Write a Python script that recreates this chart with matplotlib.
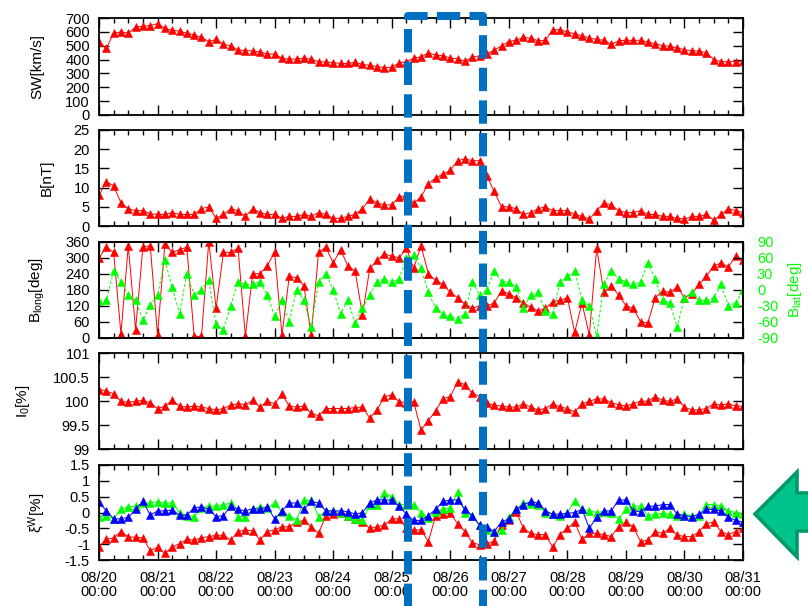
import numpy as np
import matplotlib
matplotlib.use("Agg")
import matplotlib.pyplot as plt
from matplotlib.lines import Line2D
from matplotlib.patches import Polygon
from matplotlib.ticker import MultipleLocator, FuncFormatter

plt.rcParams['font.family'] = ['Liberation Sans', 'DejaVu Sans']
plt.rcParams['font.size'] = 10.5
plt.rcParams['axes.unicode_minus'] = False
plt.rcParams['mathtext.fontset'] = 'custom'
plt.rcParams['mathtext.rm'] = 'Liberation Sans'
plt.rcParams['mathtext.it'] = 'Liberation Sans:italic'
plt.rcParams['mathtext.bf'] = 'Liberation Sans:bold'

# ---------------- data (3-hourly samples, 08/20 00:00 -> 08/31 00:00) -------------
hours = np.arange(0, 265, 3)
x_tick_labels = ["08/20\n00:00", "08/21\n00:00", "08/22\n00:00", "08/23\n00:00",
                 "08/24\n00:00", "08/25\n00:00", "08/26\n00:00", "08/27\n00:00",
                 "08/28\n00:00", "08/29\n00:00", "08/30\n00:00", "08/31\n00:00"]

sw_speed = [525, 480, 590, 600, 590, 635, 640, 645,
            660, 625, 612, 605, 590, 578, 560, 530,
            545, 510, 500, 470, 465, 462, 455, 440,
            440, 410, 402, 405, 410, 402, 385, 382,
            378, 372, 372, 380, 365, 358, 350, 342,
            345, 375, 385, 410, 420, 448, 432, 428,
            410, 405, 388, 415, 428, 440, 468, 500,
            530, 540, 560, 555, 535, 540, 615, 615,
            600, 585, 572, 555, 545, 540, 510, 535,
            540, 538, 540, 525, 515, 500, 495, 485,
            470, 465, 460, 450, 400, 385, 385, 385,
            390]

b_field = [8, 11.5, 10.5, 6, 4.5, 4, 4, 3.2,
           3, 3, 3.5, 3, 3, 3, 4.5, 5,
           2, 3, 4.5, 4, 2.5, 4.5, 3.5, 3,
           3, 2, 2.5, 2.5, 3, 2.5, 3.5, 3,
           2, 2, 2.5, 3, 4.5, 7, 6, 5.5,
           5.5, 7.5, 8, 6, 7.5, 11, 12.5, 13.5,
           14.5, 17, 17.5, 17, 17, 13, 9, 5,
           5, 4.5, 3, 3.5, 4.5, 5, 4, 4,
           4, 3, 2.5, 1.8, 4, 6, 5.5, 4,
           3.5, 3.5, 4, 3, 3, 2.5, 2.5, 2,
           1.8, 2.5, 2.5, 3, 1.5, 3, 4.5, 4,
           3.5]

b_long = [300, 340, 320, 15, 345, 30, 340, 345,
          10, 350, 320, 330, 340, 5, 5, 360,
          110, 320, 320, 335, 5, 240, 240, 270,
          320, 10, 230, 225, 195, 10, 320, 340,
          280, 330, 270, 250, 85, 260, 290, 315,
          305, 300, 335, 260, 345, 240, 215, 200,
          170, 150, 125, 110, 120, 120, 130, 175,
          165, 150, 130, 115, 100, 110, 135, 140,
          150, 20, 130, 10, 335, 170, 195, 160,
          120, 110, 60, 55, 150, 175, 170, 190,
          150, 165, 200, 230, 270, 280, 265, 305,
          290]

b_lat = [-22, -20, 35, 15, -10, -20, -57, -29,
         -10, 55, 5, -45, 30, -10, 0, 18,
         -65, -75, -30, 15, 10, 10, 15, -10,
         -50, -20, -60, 0, -20, -70, 15, 30,
         0, -45, -20, -63, -35, -10, 15, 20,
         15, 20, 60, 65, 40, -5, -35, -45,
         -50, -55, -45, 15, -10, 0, 35, 15,
         15, 5, -35, -10, -5, -40, -45, 15,
         25, 35, -20, -30, -87, 10, 35, 20,
         15, 10, 15, 50, 20, -20, -25, -70,
         -15, -5, -20, -20, -15, 10, -30, -25,
         0]

i0 = [100.24, 100.22, 100.15, 100.0, 99.98, 100.0, 100.02, 99.97,
      99.85, 99.9, 100.02, 99.9, 99.88, 99.9, 99.88, 99.85,
      99.82, 99.85, 99.92, 99.95, 99.93, 100.02, 99.88, 100.0,
      99.95, 100.15, 99.9, 99.88, 99.9, 99.75, 99.7, 99.85,
      99.85, 99.85, 99.85, 99.87, 99.88, 99.65, 99.82, 100.1,
      100.13, 99.99, 99.97, 99.99, 99.4, 99.6, 99.8, 100.05,
      100.1, 100.4, 100.35, 100.17, 100.1, 99.96, 99.92, 99.9,
      99.88, 99.88, 99.95, 99.88, 99.82, 99.85, 99.95, 99.88,
      99.85, 99.78, 99.95, 100.0, 100.05, 100.05, 99.97, 99.93,
      99.9, 99.95, 100.0, 100.0, 100.1, 100.02, 100.0, 100.05,
      99.88, 99.82, 99.82, 99.85, 99.95, 99.92, 99.95, 99.9,
      99.9]

xi_red = [-1.08, -0.85, -0.8, -0.6, -0.77, -0.78, -0.8, -1.2,
          -1.1, -1.29, -1.1, -0.98, -0.85, -0.87, -0.8, -0.76,
          -0.72, -0.72, -0.87, -0.6, -0.55, -0.58, -0.87, -0.6,
          -0.55, -0.45, -0.45, -0.3, -0.25, -0.45, -0.66, -0.1,
          -0.05, 0.0, -0.1, -0.2, -0.3, -0.5, -0.45, -0.4,
          -0.2, -0.2, -0.5, -0.55, -0.55, -0.92, -0.1, -0.05,
          -0.02, -0.35, -0.6, -0.95, -1.02, -1.0, -0.9, -0.4,
          -0.25, 0.03, -0.5, -0.66, -0.7, -0.7, -1.1, -0.7,
          -0.5, -0.3, -0.85, -0.66, -0.66, -0.7, -0.76, -0.45,
          -0.3, -0.45, -0.92, -0.87, -0.6, -0.66, -0.5, -0.71,
          -0.76, -0.76, -0.6, -0.35, -0.3, -0.6, -0.7, -0.6,
          -0.5]

xi_green = [-0.13, -0.1, -0.2, 0.1, 0.18, 0.2, 0.29, 0.3,
            0.34, 0.29, 0.3, 0.0, -0.1, -0.13, 0.15, 0.2,
            0.2, 0.25, 0.29, -0.13, -0.13, 0.1, 0.18, 0.15,
            0.29, 0.03, -0.1, -0.24, 0.38, 0.38, -0.13, 0.05,
            0.05, 0.0, -0.1, -0.2, -0.24, 0.24, 0.25, 0.61,
            0.5, 0.25, 0.25, 0.24, 0.0, -0.18, 0.03, 0.1,
            0.15, 0.65, 0.0, -0.12, -0.4, -0.55, -0.6, -0.55,
            -0.15, 0.1, 0.29, 0.28, 0.25, 0.0, -0.05, -0.1,
            0.0, 0.35, 0.1, 0.05, 0.0, 0.03, 0.0, -0.2,
            0.1, 0.2, 0.2, -0.1, -0.05, -0.03, -0.05, -0.1,
            -0.05, -0.1, -0.12, 0.25, 0.25, 0.2, 0.05, 0.0,
            -0.05]

xi_blue = [0.34, 0.05, -0.2, -0.2, -0.15, 0.1, 0.35, -0.08,
           0.05, 0.05, 0.08, -0.08, -0.08, 0.15, 0.18, 0.1,
           -0.13, -0.1, 0.2, 0.1, 0.05, 0.12, 0.1, 0.18,
           -0.2, 0.05, 0.3, 0.3, 0.1, 0.35, 0.3, 0.05,
           0.05, 0.05, 0.03, -0.05, 0.0, 0.3, 0.4, 0.4,
           0.39, 0.2, -0.05, -0.25, -0.25, -0.1, 0.1, 0.35,
           0.39, 0.4, 0.1, -0.1, -0.4, -0.45, -0.6, -0.3,
           -0.2, 0.1, 0.25, 0.35, 0.3, 0.05, -0.05, -0.05,
           -0.03, 0.0, 0.1, -0.5, -0.15, 0.05, 0.05, 0.39,
           0.4, 0.05, 0.03, 0.2, 0.2, 0.25, 0.25, -0.05,
           -0.1, -0.13, -0.05, 0.1, 0.1, 0.05, -0.15, -0.25,
           -0.3]

# ---------------- figure ----------------
W, H = 808, 606
fig = plt.figure(figsize=(W / 100, H / 100), dpi=100)
days = hours / 24.0

RED = '#FF0000'
GREEN = '#00FF00'
BLUE = '#0000FF'

L_PX, R_PX = 99, 743
panel_px = [(18, 115), (130, 226), (241.7, 337.7), (353.3, 449.3), (465, 560)]


def make_ax(top, bot):
    return fig.add_axes([L_PX / W, 1 - bot / H, (R_PX - L_PX) / W, (bot - top) / H])


def style(ax, right=True):
    ax.set_xlim(0, 11)
    ax.xaxis.set_major_locator(MultipleLocator(1))
    ax.xaxis.set_minor_locator(MultipleLocator(0.25))
    ax.tick_params(which='both', direction='in', top=True, right=right, width=1.0)
    ax.tick_params(which='major', length=7)
    ax.tick_params(which='minor', length=3.5)
    ax.tick_params(axis='y', which='minor', length=0)
    ax.tick_params(axis='y', pad=6.5)
    for s in ax.spines.values():
        s.set_linewidth(1.3)


def ylab(ax, text, xpx):
    ax.set_ylabel(text, va='center', fontsize=11)
    ax.yaxis.set_label_coords((xpx - L_PX) / (R_PX - L_PX), 0.5)


fmt_g = FuncFormatter(lambda v, p: '%g' % v)
mk = dict(marker='^', markersize=5.4, markeredgewidth=0.4, linewidth=0.7)

# Panel 1: solar wind speed
ax1 = make_ax(*panel_px[0])
style(ax1)
ax1.plot(days, sw_speed, color=RED, mfc=RED, mec=RED, **mk)
ax1.set_ylim(0, 700)
ax1.yaxis.set_major_locator(MultipleLocator(100))
ax1.tick_params(labelbottom=False)
ylab(ax1, 'SW[km/s]', 37)

# Panel 2: IMF magnitude
ax2 = make_ax(*panel_px[1])
style(ax2)
ax2.plot(days, b_field, color=RED, mfc=RED, mec=RED, **mk)
ax2.set_ylim(0, 25)
ax2.yaxis.set_major_locator(MultipleLocator(5))
ax2.tick_params(labelbottom=False)
ylab(ax2, 'B[nT]', 47)

# Panel 3: IMF longitude / latitude
ax3 = make_ax(*panel_px[2])
style(ax3, right=False)
ax3.plot(days, b_long, color=RED, mfc=RED, mec=RED, **mk, zorder=3)
ax3.set_ylim(0, 360)
ax3.yaxis.set_major_locator(MultipleLocator(60))
ax3.tick_params(labelbottom=False)
ylab(ax3, r'B$_{\mathrm{long}}$[deg]', 37)
ax3b = ax3.twinx()
ax3b.plot(days, b_lat, color=GREEN, mfc=GREEN, mec=GREEN, linestyle=(0, (3, 2)),
          marker='^', markersize=5.4, markeredgewidth=0.4, linewidth=0.7)
ax3b.set_ylim(-90, 90)
ax3b.yaxis.set_major_locator(MultipleLocator(30))
ax3b.tick_params(axis='y', direction='in', length=7, width=1.0, colors=GREEN, pad=10)
ax3b.tick_params(axis='y', which='minor', length=0)
ax3b.spines['right'].set_color('black')
for s in ax3b.spines.values():
    s.set_linewidth(1.3)
ax3b.set_ylabel(r'B$_{\mathrm{lat}}$[deg]', color=GREEN, rotation=90, va='center', fontsize=11)
ax3b.yaxis.set_label_coords((795 - L_PX) / (R_PX - L_PX), 0.5)
ax3b.tick_params(axis='y', which='major', color='black')

# Panel 4: I0
ax4 = make_ax(*panel_px[3])
style(ax4)
ax4.plot(days, i0, color=RED, mfc=RED, mec=RED, **mk)
ax4.set_ylim(99, 101)
ax4.yaxis.set_major_locator(MultipleLocator(0.5))
ax4.yaxis.set_major_formatter(fmt_g)
ax4.tick_params(labelbottom=False)
ylab(ax4, r'I$_{0}$[%]', 23)

# Panel 5: xi^W components
ax5 = make_ax(*panel_px[4])
style(ax5)
ax5.plot(days, xi_red, color=RED, mfc=RED, mec=RED, **mk)
ax5.plot(days, xi_green, color=GREEN, mfc=GREEN, mec=GREEN, **mk)
ax5.plot(days, xi_blue, color=BLUE, mfc=BLUE, mec=BLUE, **mk)
ax5.set_ylim(-1.5, 1.5)
ax5.yaxis.set_major_locator(MultipleLocator(0.5))
ax5.yaxis.set_major_formatter(fmt_g)
ax5.set_xticks(range(12))
ax5.set_xticklabels(x_tick_labels, linespacing=1.0)
ax5.tick_params(axis='x', which='major', pad=8)
ylab(ax5, r'ξ$^{\mathrm{W}}$[%]', 37)

# ---------------- overlay: dashed box ----------------
xl, xr = 407.7 / W, 483.3 / W
yt = 1 - 16 / H
yb = -0.03
box = Line2D([xl, xl, xr, xr], [yb, yt, yt, yb], transform=fig.transFigure,
             color='#0070C0', linewidth=5.8, linestyle=(0, (2.9, 1.15)),
             dash_joinstyle='round', dash_capstyle='butt', zorder=20)
fig.add_artist(box)

# ---------------- overlay: green arrow ----------------
arrow_px = [(755, 514), (797, 472), (797, 493), (815, 493),
            (815, 531), (797, 531), (797, 557)]
arrow = Polygon([(px / W, 1 - py / H) for px, py in arrow_px], closed=True,
                transform=fig.transFigure, facecolor='#00C48C', edgecolor='#00996A',
                linewidth=2.6, zorder=20)
fig.add_artist(arrow)

fig.savefig('out.png', dpi=100)
